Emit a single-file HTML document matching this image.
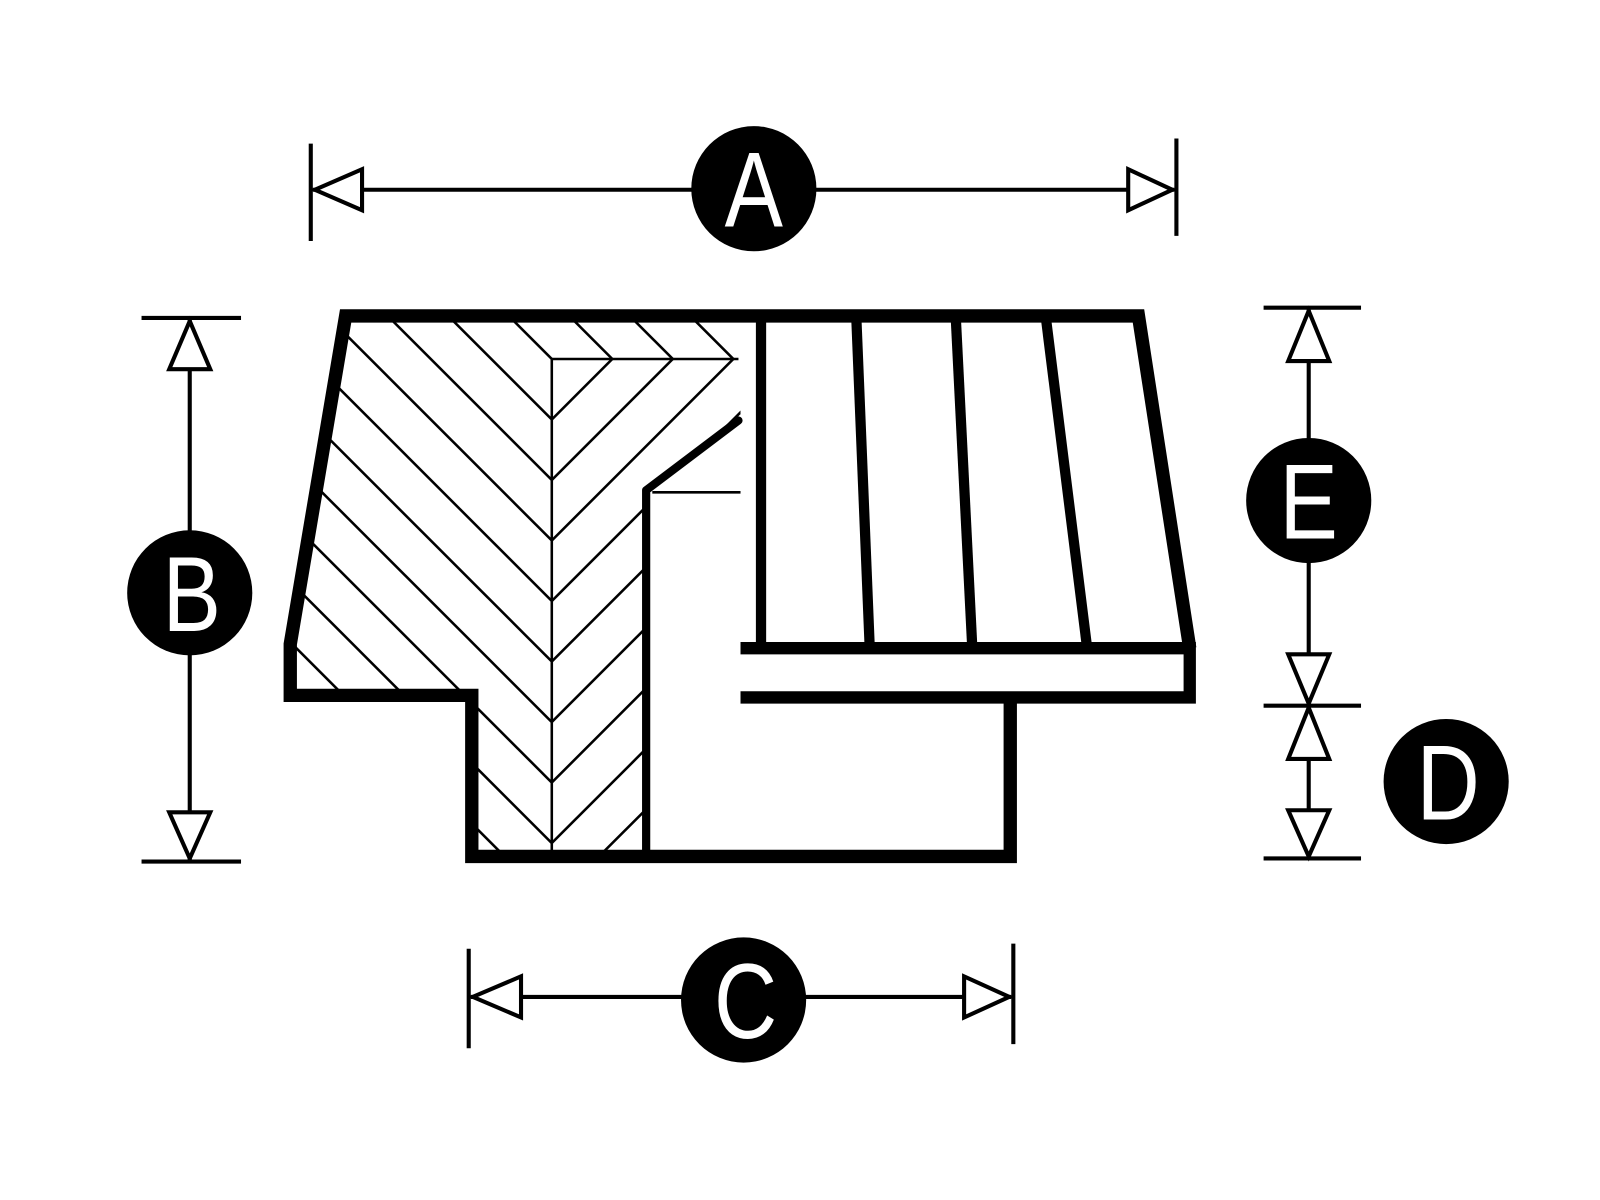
<!DOCTYPE html>
<html><head><style>html,body{margin:0;padding:0;background:#fff}svg{display:block}</style></head>
<body>
<svg width="1600" height="1200" viewBox="0 0 1560 1170" preserveAspectRatio="none" xmlns="http://www.w3.org/2000/svg">
<rect width="1560" height="1170" fill="#fff"/>
<defs>
<clipPath id="cl"><polygon points="337,308 722,308 722,350 538,350 538,840 460,840 460,678 283,678 283,628"/></clipPath>
<clipPath id="cr"><polygon points="538,350 722,350 722,408 630,476 630,835 538,835"/></clipPath>
</defs>
<g stroke="#000" stroke-width="2.5">
<g clip-path="url(#cl)">
<line x1="424" y1="0" x2="1424" y2="1000"/>
<line x1="365" y1="0" x2="1365" y2="1000"/>
<line x1="306" y1="0" x2="1306" y2="1000"/>
<line x1="247" y1="0" x2="1247" y2="1000"/>
<line x1="188" y1="0" x2="1188" y2="1000"/>
<line x1="129" y1="0" x2="1129" y2="1000"/>
<line x1="70" y1="0" x2="1070" y2="1000"/>
<line x1="11" y1="0" x2="1011" y2="1000"/>
<line x1="-48" y1="0" x2="952" y2="1000"/>
<line x1="-107" y1="0" x2="893" y2="1000"/>
<line x1="-166" y1="0" x2="834" y2="1000"/>
<line x1="-225" y1="0" x2="775" y2="1000"/>
<line x1="-284" y1="0" x2="716" y2="1000"/>
<line x1="-343" y1="0" x2="657" y2="1000"/>
<line x1="-402" y1="0" x2="598" y2="1000"/>
</g>
<g clip-path="url(#cr)">
<line x1="947" y1="0" x2="-53" y2="1000"/>
<line x1="1006" y1="0" x2="6" y2="1000"/>
<line x1="1065" y1="0" x2="65" y2="1000"/>
<line x1="1124" y1="0" x2="124" y2="1000"/>
<line x1="1183" y1="0" x2="183" y2="1000"/>
<line x1="1242" y1="0" x2="242" y2="1000"/>
<line x1="1301" y1="0" x2="301" y2="1000"/>
<line x1="1360" y1="0" x2="360" y2="1000"/>
<line x1="1419" y1="0" x2="419" y2="1000"/>
</g>
<line x1="538" y1="350" x2="538" y2="832"/>
<line x1="538" y1="350" x2="720" y2="350"/>
<line x1="636" y1="480" x2="722" y2="480"/>
</g>
<g stroke="#000" fill="none" stroke-linejoin="miter">
<polyline points="1160,632 1110,308 337,308 283,628 283,678 460,678 460,835 985,835 985,680" stroke-width="13"/>
<polyline points="722,632 1160,632 1160,680 722,680" stroke-width="12"/>
<line x1="742" y1="312" x2="742" y2="632" stroke-width="10"/>
<line x1="835" y1="312" x2="848" y2="632" stroke-width="10"/>
<line x1="932" y1="312" x2="948" y2="632" stroke-width="10"/>
<line x1="1020" y1="312" x2="1060" y2="632" stroke-width="10"/>
<polyline points="630,830 630,478 720,410" stroke-width="8" stroke-linejoin="round" stroke-linecap="round"/>
</g>
<g stroke="#000" stroke-width="4" fill="#fff">
<line x1="303" y1="140" x2="303" y2="235"/>
<line x1="1147" y1="135" x2="1147" y2="230"/>
<line x1="305" y1="185" x2="1145" y2="185"/>
<polygon points="307,185 353,165 353,205"/>
<polygon points="1143,185 1100,165 1100,205"/>
<line x1="138" y1="310" x2="235" y2="310"/>
<line x1="138" y1="840" x2="235" y2="840"/>
<line x1="185" y1="310" x2="185" y2="840"/>
<polygon points="185,313 165,360 205,360"/>
<polygon points="185,837 165,792 205,792"/>
<line x1="1232" y1="300" x2="1327" y2="300"/>
<line x1="1232" y1="688" x2="1327" y2="688"/>
<line x1="1232" y1="837" x2="1327" y2="837"/>
<line x1="1276" y1="300" x2="1276" y2="837"/>
<polygon points="1276,303 1256,352 1296,352"/>
<polygon points="1276,686 1256,638 1296,638"/>
<polygon points="1276,690 1256,740 1296,740"/>
<polygon points="1276,835 1256,790 1296,790"/>
<line x1="457" y1="925" x2="457" y2="1022"/>
<line x1="988" y1="920" x2="988" y2="1018"/>
<line x1="459" y1="972" x2="986" y2="972"/>
<polygon points="461,972 508,952 508,992"/>
<polygon points="984,972 940,952 940,992"/>
</g>
<g fill="#000">
<circle cx="735" cy="184" r="61"/>
<circle cx="185" cy="578" r="61"/>
<circle cx="1276" cy="488" r="61"/>
<circle cx="1410" cy="762" r="61"/>
<circle cx="725" cy="975" r="61"/>
</g>
<g fill="#fff" font-family="Liberation Sans, sans-serif" font-size="104" text-anchor="middle">
<text transform="translate(735,221) scale(0.82,1)">A</text>
<text transform="translate(187,615) scale(0.82,1)">B</text>
<text transform="translate(1276,525) scale(0.82,1)">E</text>
<text transform="translate(1412,799) scale(0.82,1)">D</text>
<text transform="translate(727,1012) scale(0.82,1)">C</text>
</g>
</svg>
</body></html>
